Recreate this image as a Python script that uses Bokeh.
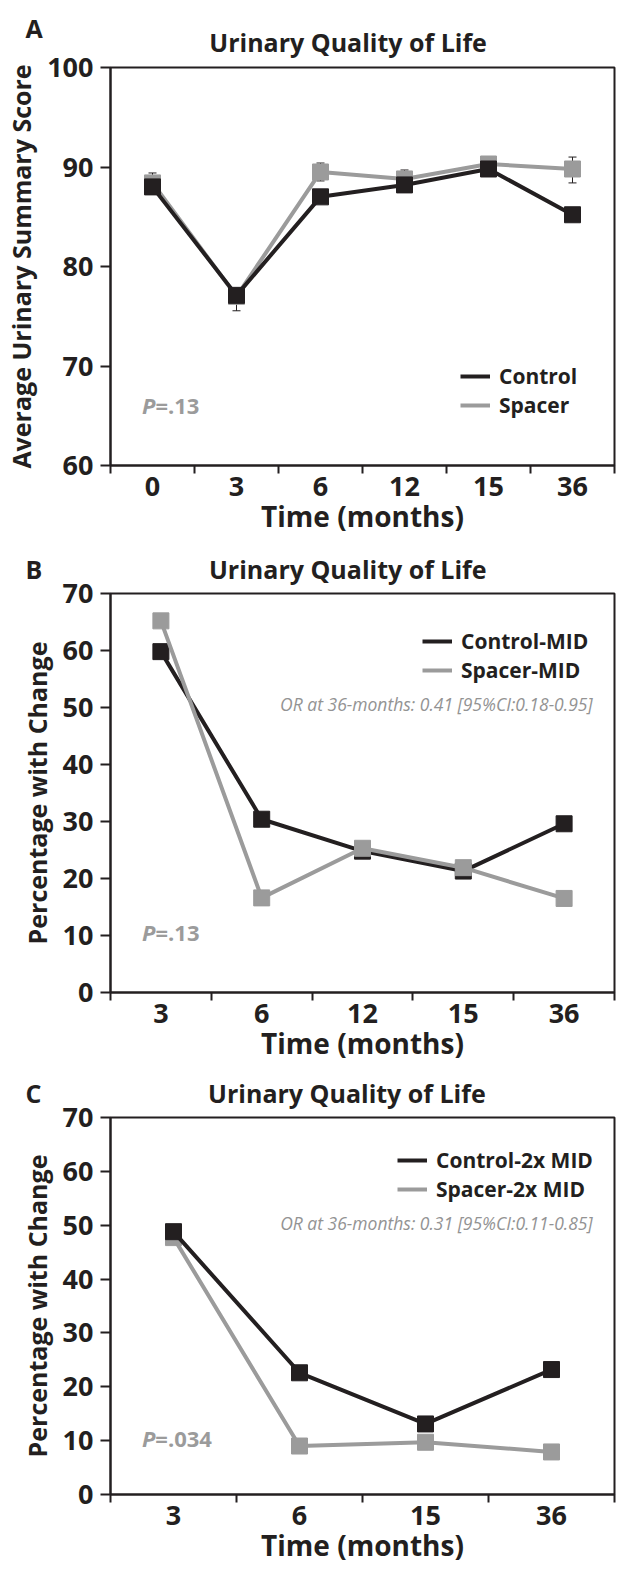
from bokeh.plotting import figure
from bokeh.models import (Range1d, FixedTicker, Label, Legend, LegendItem,
                          Whisker, TeeHead, ColumnDataSource, Title)
from bokeh.layouts import column
from bokeh.embed import file_html
from bokeh.resources import INLINE

INK = "#231f20"
GRAY = "#9b9b9b"
FONT = "Open Sans"

# ---------------- data ----------------
a_months = ["0", "3", "6", "12", "15", "36"]
a_control = [88.0, 77.1, 87.0, 88.2, 89.8, 85.2]
a_spacer = [88.4, 77.0, 89.5, 88.8, 90.3, 89.8]
a_spacer_err_hi = [1.0, 0.6, 0.9, 0.9, 0.4, 1.2]
a_spacer_err_lo = [1.0, 1.45, 0.9, 0.9, 0.4, 1.4]

b_months = ["3", "6", "12", "15", "36"]
b_control = [59.8, 30.4, 24.8, 21.3, 29.6]
b_spacer = [65.2, 16.6, 25.3, 21.9, 16.5]

c_months = ["3", "6", "15", "36"]
c_control = [48.8, 22.6, 13.1, 23.2]
c_spacer = [47.7, 9.0, 9.7, 7.9]

a_yticks = [60, 70, 80, 90, 100]
bc_yticks = [0, 10, 20, 30, 40, 50, 60, 70]

TITLE = "Urinary Quality of Life"
EM, QUARTER, SIXTH, HAIR = "\u2003", "\u2005", "\u2006", "\u200a"
a_title = "A\n" + EM * 7 + QUARTER + HAIR + TITLE
b_title = "B" + EM * 6 + QUARTER * 2 + SIXTH + TITLE
c_title = "C" + EM * 6 + QUARTER * 2 + SIXTH + TITLE


def panel(months, control, spacer, yr, yticks, ylabel, title_text,
          pval, p_xy, labels, legend_locs, control_on_top, height, top,
          bottom, or_text=None, or_xy=None, err=None):
    n = len(months)
    xs = [i + 0.5 for i in range(n)]
    p = figure(width=618, height=height, x_range=Range1d(0, n),
               y_range=Range1d(*yr), output_backend="svg",
               toolbar_location=None, min_border_left=110,
               min_border_right=4, min_border_top=top,
               min_border_bottom=bottom, title=None,
               background_fill_color="white", border_fill_color="white")
    p.xgrid.visible = False
    p.ygrid.visible = False
    p.outline_line_color = INK
    p.outline_line_width = 2

    p.add_layout(Title(text=title_text, align="left", offset=-85,
                       standoff=16, text_font=FONT, text_font_size="25px",
                       text_font_style="bold", text_color=INK,
                       text_line_height=0.42), "above")

    xa = p.xaxis[0]
    xa.ticker = FixedTicker(ticks=xs, minor_ticks=list(range(n + 1)))
    xa.major_label_overrides = {x: m for x, m in zip(xs, months)}
    xa.major_tick_out = 0
    xa.major_tick_in = 0
    xa.major_tick_line_color = None
    xa.minor_tick_out = 8
    xa.minor_tick_in = 0
    xa.minor_tick_line_color = INK
    xa.minor_tick_line_width = 2
    xa.axis_line_color = INK
    xa.axis_line_width = 2
    xa.major_label_standoff = 3
    xa.major_label_text_font = FONT
    xa.major_label_text_font_size = "27px"
    xa.major_label_text_font_style = "bold"
    xa.major_label_text_color = INK
    xa.axis_label = "Time (months)"
    xa.axis_label_standoff = -2
    xa.axis_label_text_font = FONT
    xa.axis_label_text_font_size = "28px"
    xa.axis_label_text_font_style = "bold"
    xa.axis_label_text_color = INK

    ya = p.yaxis[0]
    ya.ticker = FixedTicker(ticks=yticks, minor_ticks=[])
    ya.major_tick_out = 10
    ya.major_tick_in = 0
    ya.major_tick_line_color = INK
    ya.major_tick_line_width = 2
    ya.axis_line_color = INK
    ya.axis_line_width = 2
    ya.major_label_standoff = 7
    ya.major_label_text_font = FONT
    ya.major_label_text_font_size = "27px"
    ya.major_label_text_font_style = "bold"
    ya.major_label_text_color = INK
    ya.axis_label = ylabel
    ya.axis_label_standoff = 6
    ya.axis_label_text_font = FONT
    ya.axis_label_text_font_size = "25px"
    ya.axis_label_text_font_style = "bold"
    ya.axis_label_text_color = INK

    if err is not None:
        hi, lo = err
        src = ColumnDataSource(dict(
            x=xs,
            upper=[v + e for v, e in zip(spacer, hi)],
            lower=[v - e for v, e in zip(spacer, lo)]))
        w = Whisker(base="x", upper="upper", lower="lower", source=src,
                    line_color=INK, line_width=1,
                    upper_head=TeeHead(size=8, line_color=INK, line_width=1),
                    lower_head=TeeHead(size=8, line_color=INK, line_width=1))
        p.add_layout(w)

    def draw(vals, color):
        ln = p.line(xs, vals, line_width=4, line_color=color)
        p.scatter(xs, vals, marker="square", size=16, fill_color=color,
                  line_color=color)
        return ln

    if control_on_top:
        ls = draw(spacer, GRAY)
        lc = draw(control, INK)
    else:
        lc = draw(control, INK)
        ls = draw(spacer, GRAY)

    for lab, rend, loc in zip(labels, (lc, ls), legend_locs):
        leg = Legend(items=[LegendItem(label=lab, renderers=[rend])],
                     location=loc, orientation="vertical",
                     label_text_font=FONT, label_text_font_style="bold",
                     label_text_font_size="21px", label_text_color=INK,
                     glyph_width=30, glyph_height=20, label_height=20,
                     label_standoff=9, spacing=0, padding=0, margin=0,
                     border_line_color=None, background_fill_alpha=0)
        p.add_layout(leg)

    p.add_layout(Label(x=p_xy[0], y=p_xy[1], text="P", text_align="right",
                       text_baseline="middle", text_font=FONT,
                       text_font_size="22px", text_font_style="bold italic",
                       text_color=GRAY))
    p.add_layout(Label(x=p_xy[0], y=p_xy[1], text=pval, text_align="left",
                       text_baseline="middle", text_font=FONT,
                       text_font_size="22px", text_font_style="bold",
                       text_color=GRAY))
    if or_text:
        p.add_layout(Label(x=or_xy[0], y=or_xy[1], text=or_text,
                           text_align="right", text_baseline="middle",
                           text_font=FONT, text_font_size="17.5px",
                           text_font_style="italic", text_color="#939393"))
    return p


pa = panel(a_months, a_control, a_spacer, (60, 100), a_yticks,
           "Average Urinary Summary Score", a_title,
           "=.13", (0.535, 66.05), ("Control", "Spacer"),
           [(350, 75), (350, 46)], True,
           541, 67, 76, err=(a_spacer_err_hi, a_spacer_err_lo))
pb = panel(b_months, b_control, b_spacer, (0, 70), bc_yticks,
           "Percentage with Change", b_title,
           "=.13", (0.446, 10.63), ("Control-MID", "Spacer-MID"),
           [(312, 337), (312, 308)], False, 524, 52, 73,
           or_text="OR at 36-months: 0.41 [95%CI:0.18-0.95]",
           or_xy=(4.782, 50.7))
pc = panel(c_months, c_control, c_spacer, (0, 70), bc_yticks,
           "Percentage with Change", c_title,
           "=.034", (0.356, 10.52), ("Control-2x MID", "Spacer-2x MID"),
           [(287, 320), (287, 291)], True, 521, 52, 92,
           or_text="OR at 36-months: 0.31 [95%CI:0.11-0.85]",
           or_xy=(3.826, 50.48))

layout = column(pa, pb, pc, spacing=0)
open("out.html", "w").write(file_html(layout, INLINE))
